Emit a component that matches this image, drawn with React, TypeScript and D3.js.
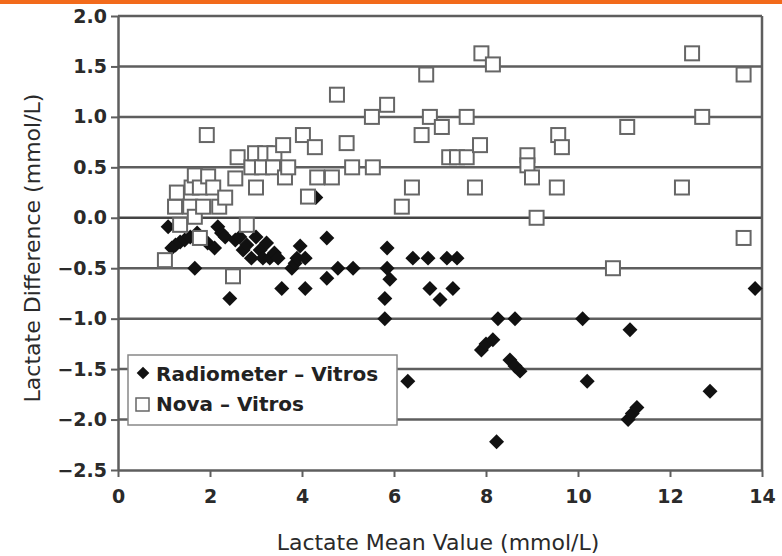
import React, { useRef, useEffect } from 'react';
import * as d3 from 'd3';

// Radiometer – Vitros (mean, difference)
const radiometerX = [1.09, 1.17, 1.25, 1.35, 1.45, 1.57, 1.72, 1.67, 1.95, 2.1, 2.17, 2.25, 2.33, 2.43, 2.55, 2.65, 2.72, 2.8, 2.9, 3.0, 3.09, 3.15, 3.23, 3.3, 3.4, 3.48, 3.56, 3.78, 3.85, 3.89, 3.96, 4.07, 4.07, 4.3, 4.54, 4.54, 4.78, 5.11, 5.85, 5.85, 5.91, 5.8, 5.8, 6.41, 6.74, 6.78, 7.0, 7.15, 7.28, 7.37, 6.3, 7.9, 8.0, 8.15, 8.26, 8.63, 8.52, 8.63, 8.74, 8.23, 10.1, 10.2, 11.13, 11.09, 11.18, 11.28, 12.87, 13.85];
const radiometerY = [-0.09, -0.3, -0.27, -0.24, -0.22, -0.19, -0.15, -0.5, -0.25, -0.3, -0.09, -0.15, -0.19, -0.8, -0.22, -0.19, -0.32, -0.27, -0.4, -0.19, -0.32, -0.4, -0.25, -0.4, -0.35, -0.4, -0.7, -0.5, -0.45, -0.4, -0.28, -0.4, -0.7, 0.2, -0.2, -0.6, -0.5, -0.5, -0.3, -0.5, -0.61, -0.8, -1.0, -0.4, -0.4, -0.7, -0.81, -0.4, -0.7, -0.4, -1.62, -1.31, -1.25, -1.21, -1.0, -1.0, -1.41, -1.47, -1.52, -2.22, -1.0, -1.62, -1.11, -2.0, -1.94, -1.88, -1.72, -0.7];

// Nova – Vitros (mean, difference)
const novaX = [1.02, 1.24, 1.28, 1.35, 1.57, 1.6, 1.67, 1.67, 1.78, 1.78, 1.85, 1.93, 1.96, 2.07, 2.2, 2.33, 2.5, 2.55, 2.6, 2.8, 2.9, 2.98, 3.0, 3.13, 3.2, 3.37, 3.4, 3.59, 3.63, 3.7, 4.02, 4.13, 4.28, 4.33, 4.65, 4.76, 4.97, 5.09, 5.52, 5.54, 5.85, 6.17, 6.39, 6.6, 6.7, 6.78, 7.04, 7.2, 7.37, 7.58, 7.58, 7.76, 7.87, 7.9, 8.15, 8.9, 8.9, 9.0, 9.1, 9.54, 9.57, 9.65, 10.76, 11.07, 12.26, 12.48, 12.7, 13.6, 13.6];
const novaY = [-0.42, 0.11, 0.25, -0.07, 0.11, 0.3, 0.42, 0.01, 0.3, -0.2, 0.11, 0.82, 0.41, 0.3, 0.11, 0.2, -0.58, 0.39, 0.6, -0.07, 0.5, 0.64, 0.3, 0.5, 0.64, 0.5, 0.64, 0.72, 0.4, 0.5, 0.82, 0.21, 0.7, 0.4, 0.4, 1.22, 0.74, 0.5, 1.0, 0.5, 1.12, 0.11, 0.3, 0.82, 1.42, 1.0, 0.9, 0.6, 0.6, 0.6, 1.0, 0.3, 0.72, 1.63, 1.52, 0.62, 0.52, 0.4, 0.0, 0.3, 0.82, 0.7, -0.5, 0.9, 0.3, 1.63, 1.0, 1.42, -0.2];

const xTicks = [0, 2, 4, 6, 8, 10, 12, 14];
const yTicks = [-2.5, -2.0, -1.5, -1.0, -0.5, 0.0, 0.5, 1.0, 1.5, 2.0];
const seriesNames = ['Radiometer – Vitros', 'Nova – Vitros'];

const W = 782;
const H = 556;
const font = '"DejaVu Sans", sans-serif';

const App = () => {
  const ref = useRef<SVGSVGElement>(null);

  useEffect(() => {
    document.body.style.margin = '0';
    const svg = d3.select(ref.current);
    svg.selectAll('*').remove();

    const x = d3.scaleLinear().domain([0, 14]).range([118, 762]);
    const y = d3.scaleLinear().domain([-2.5, 2.0]).range([470, 16]);

    svg.append('rect').attr('width', W).attr('height', H).attr('fill', '#fff');
    svg.append('rect').attr('width', W).attr('height', 4).attr('fill', '#f26a1b');

    // grid lines (every 0.5, top one acts as frame)
    svg.append('g')
      .selectAll('line')
      .data(yTicks.filter(d => d > -2.5))
      .enter()
      .append('line')
      .attr('x1', x(0)).attr('x2', x(14))
      .attr('y1', d => y(d)).attr('y2', d => y(d))
      .attr('stroke', d => (d === 0 ? '#444' : '#5e5e5e'))
      .attr('stroke-width', 2.5);

    // right frame
    svg.append('line')
      .attr('x1', x(14)).attr('x2', x(14))
      .attr('y1', y(2)).attr('y2', y(-2.5))
      .attr('stroke', '#5e5e5e').attr('stroke-width', 2.5);

    const xAxis = svg.append('g')
      .attr('transform', `translate(0,${y(-2.5)})`)
      .call(d3.axisBottom(x).tickValues(xTicks).tickSize(7).tickSizeOuter(0).tickPadding(13));
    const yAxis = svg.append('g')
      .attr('transform', `translate(${x(0)},0)`)
      .call(d3.axisLeft(y).tickValues(yTicks).tickFormat(d3.format('.1f')).tickSize(7).tickSizeOuter(0).tickPadding(4));

    [xAxis, yAxis].forEach(ax => {
      ax.select('.domain').attr('stroke', '#5e5e5e').attr('stroke-width', 2.5);
      ax.selectAll('.tick line').attr('stroke', '#5e5e5e').attr('stroke-width', 2);
      ax.selectAll('.tick text')
        .attr('fill', '#2a2a2a')
        .style('font-family', font)
        .style('font-size', '19px')
        .style('font-weight', 'bold');
    });

    // diamonds are squares turned 45°
    const diamond = d3.symbol().type(d3.symbolSquare).size(112);

    svg.append('g')
      .selectAll('path')
      .data(radiometerX.map((v, i) => [v, radiometerY[i]]))
      .enter()
      .append('path')
      .attr('d', diamond)
      .attr('transform', d => `translate(${x(d[0])},${y(d[1])}) rotate(45)`)
      .attr('fill', '#111');

    const sq = 14;
    svg.append('g')
      .selectAll('rect')
      .data(novaX.map((v, i) => [v, novaY[i]]))
      .enter()
      .append('rect')
      .attr('x', d => x(d[0]) - sq / 2)
      .attr('y', d => y(d[1]) - sq / 2)
      .attr('width', sq)
      .attr('height', sq)
      .attr('fill', '#fff')
      .attr('stroke', '#666')
      .attr('stroke-width', 2);

    // legend
    const lg = svg.append('g');
    lg.append('rect')
      .attr('x', 128).attr('y', 355).attr('width', 269).attr('height', 70)
      .attr('fill', '#fff').attr('stroke', '#888').attr('stroke-width', 1.5);
    lg.append('path')
      .attr('d', d3.symbol().type(d3.symbolSquare).size(80))
      .attr('transform', 'translate(143,373) rotate(45)')
      .attr('fill', '#111');
    lg.append('rect')
      .attr('x', 136).attr('y', 398).attr('width', 13).attr('height', 13)
      .attr('fill', '#fff').attr('stroke', '#666').attr('stroke-width', 1.5);
    lg.selectAll('text')
      .data(seriesNames)
      .enter()
      .append('text')
      .attr('x', 156)
      .attr('y', (d, i) => 381 + i * 30)
      .text(d => d)
      .attr('fill', '#222')
      .style('font-family', font)
      .style('font-size', '20px')
      .style('font-weight', 'bold');

    svg.append('text')
      .attr('x', 438).attr('y', 550)
      .attr('text-anchor', 'middle')
      .attr('fill', '#2a2a2a')
      .style('font-family', font)
      .style('font-size', '22px')
      .text('Lactate Mean Value (mmol/L)');

    svg.append('text')
      .attr('transform', 'translate(40,248) rotate(-90)')
      .attr('text-anchor', 'middle')
      .attr('fill', '#2a2a2a')
      .style('font-family', font)
      .style('font-size', '22px')
      .text('Lactate Difference (mmol/L)');
  }, []);

  return <svg ref={ref} width={W} height={H} style={{ display: 'block' }}></svg>;
};

export default App;
